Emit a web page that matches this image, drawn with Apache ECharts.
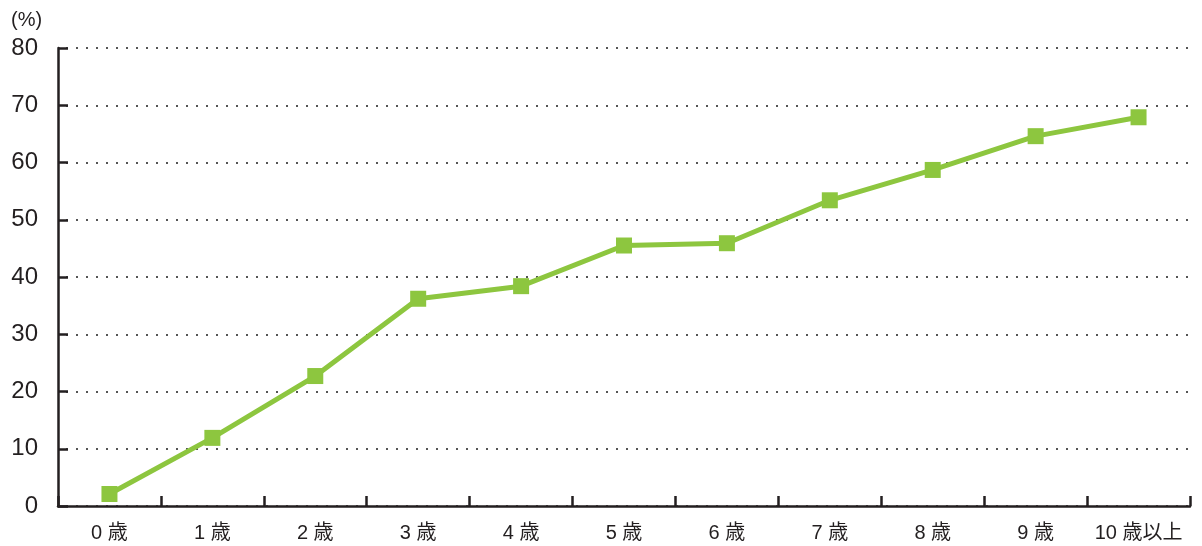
<!DOCTYPE html>
<html>
<head>
<meta charset="utf-8">
<script src="https://cdn.jsdelivr.net/npm/echarts@6/dist/echarts.min.js"></script>
<style>
  html, body { margin: 0; padding: 0; background: #fff; }
  #chart { width: 1202px; height: 546px; }
</style>
</head>
<body>
<div id="chart"></div>
<script>
// 年齢別の割合 (%)
const categories = ['0 歳', '1 歳', '2 歳', '3 歳', '4 歳', '5 歳', '6 歳', '7 歳', '8 歳', '9 歳', '10 歳以上'];
const values = [2.1, 11.9, 22.7, 36.2, 38.4, 45.5, 45.9, 53.4, 58.7, 64.6, 67.9];

const fontFamily = '"Liberation Sans", "Noto Sans CJK JP", sans-serif';
const axisColor = '#231f20';

const chart = echarts.init(document.getElementById('chart'));

const option = {
  animation: false,
  title: {
    text: '(%)',
    left: 6,
    top: 5,
    textStyle: { fontFamily, fontSize: 20, fontWeight: 'normal', color: axisColor }
  },
  grid: {
    left: 58,
    right: 12,
    top: 48,
    bottom: 40,
    containLabel: false
  },
  xAxis: {
    type: 'category',
    data: categories,
    boundaryGap: true,
    axisLine: { lineStyle: { color: axisColor, width: 2.5 } },
    axisTick: { show: true, inside: true, interval: 0, length: 10, lineStyle: { color: axisColor, width: 2.5 } },
    axisLabel: { fontFamily, fontSize: 20, color: axisColor, margin: 17, interval: 0 },
    splitLine: { show: false }
  },
  yAxis: {
    type: 'value',
    min: 0,
    max: 80,
    interval: 10,
    axisLine: { show: true, lineStyle: { color: axisColor, width: 2.5 } },
    axisTick: { show: true, inside: true, length: 10, lineStyle: { color: axisColor, width: 2.5 } },
    axisLabel: { fontFamily, fontSize: 24, color: axisColor, margin: 20 },
    splitLine: {
      show: true,
      lineStyle: { color: '#555', width: 2, type: [2, 8], dashOffset: -8 }
    }
  },
  series: [
    {
      type: 'line',
      data: values,
      symbol: 'rect',
      symbolSize: 16,
      lineStyle: { color: '#8dc63f', width: 5 },
      itemStyle: { color: '#8dc63f' }
    }
  ]
};

chart.setOption(option);
</script>
</body>
</html>
